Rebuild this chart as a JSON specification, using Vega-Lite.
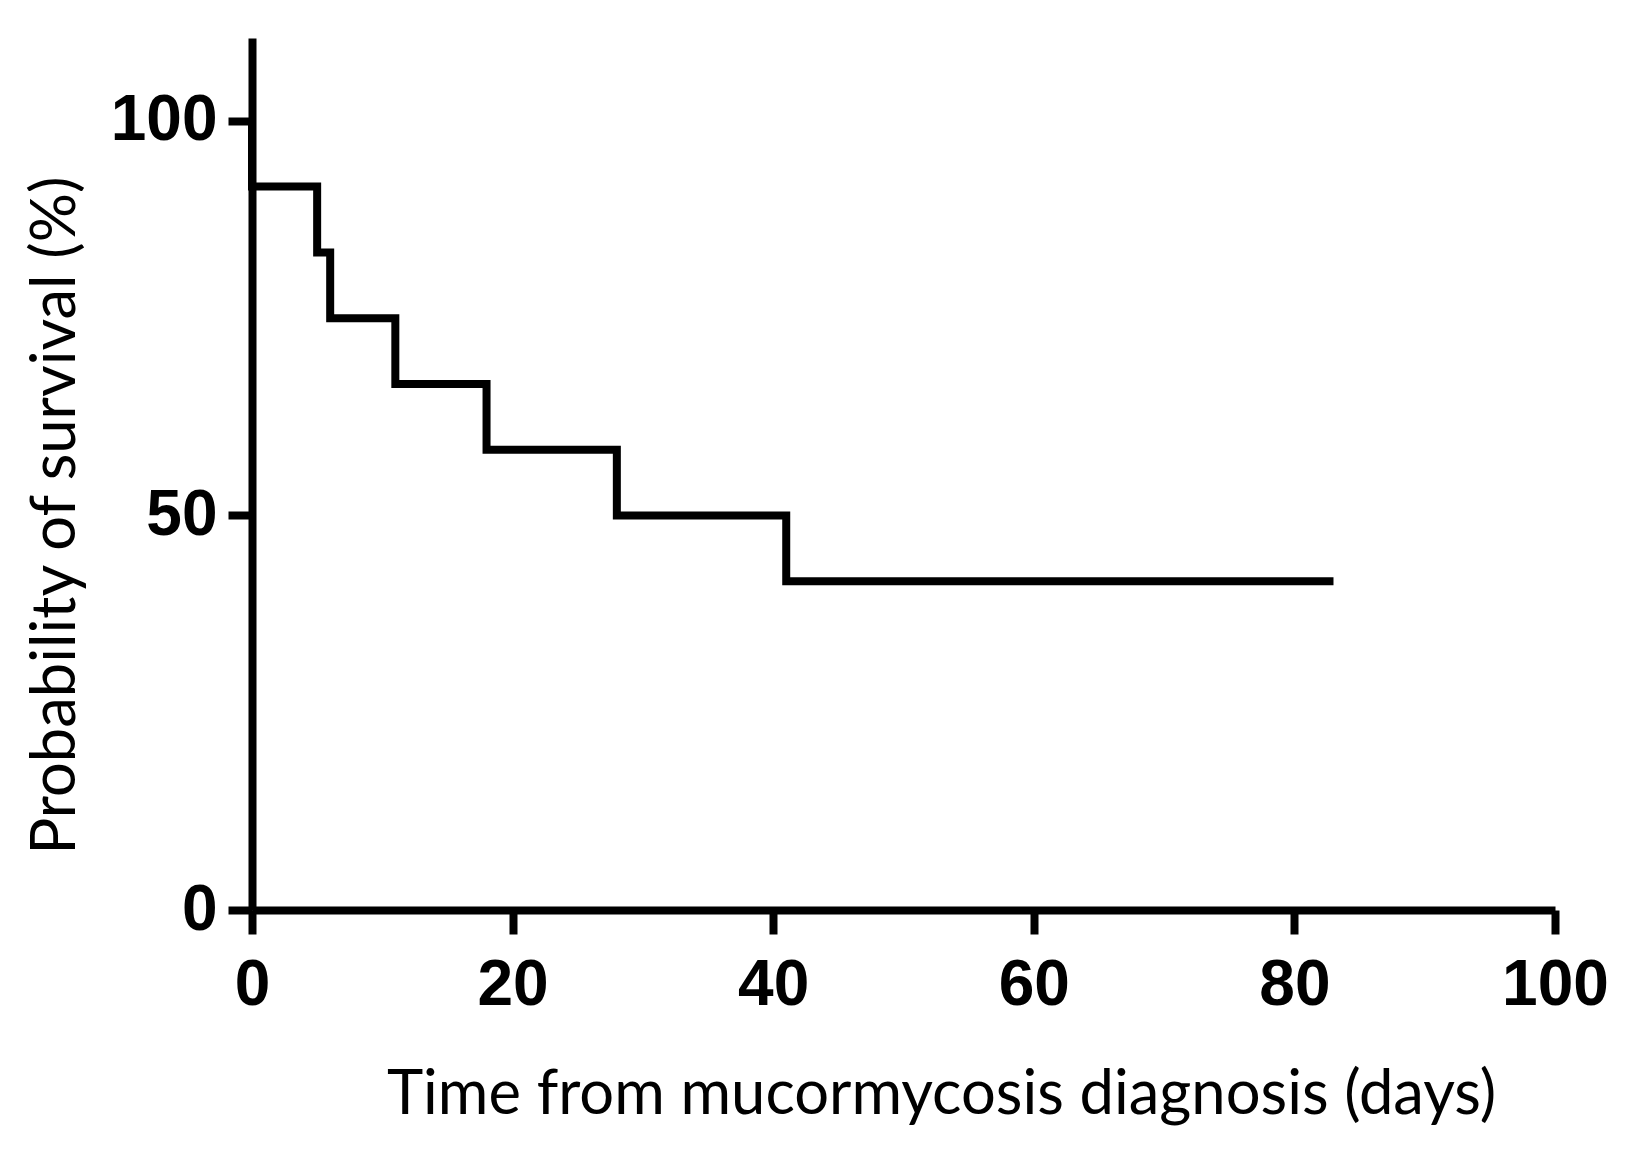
{
  "$schema": "https://vega.github.io/schema/vega-lite/v6.json",
  "width": 1303,
  "height": 872,
  "autosize": "none",
  "padding": {"left": 252, "top": 38, "right": 71, "bottom": 243},
  "background": "white",
  "config": {"view": {"stroke": null}},
  "data": {
    "values": [
      {"step": 0, "days": 0, "survival": 100},
      {"step": 1, "days": 0, "survival": 91.67},
      {"step": 2, "days": 5, "survival": 83.33},
      {"step": 3, "days": 6, "survival": 75},
      {"step": 4, "days": 11, "survival": 66.67},
      {"step": 5, "days": 18, "survival": 58.33},
      {"step": 6, "days": 28, "survival": 50},
      {"step": 7, "days": 41, "survival": 41.67},
      {"step": 8, "days": 83, "survival": 41.67}
    ]
  },
  "mark": {"type": "line", "interpolate": "step-after", "color": "black", "strokeWidth": 8},
  "encoding": {
    "order": {"field": "step", "type": "quantitative"},
    "x": {
      "field": "days",
      "type": "quantitative",
      "scale": {"domain": [0, 100], "nice": false, "zero": true},
      "axis": {
        "values": [0, 20, 40, 60, 80, 100],
        "grid": false,
        "domainColor": "black",
        "domainWidth": 8,
        "tickColor": "black",
        "tickWidth": 8,
        "tickSize": 24,
        "labelFont": "Liberation Sans",
        "labelFontWeight": "bold",
        "labelFontSize": 64,
        "labelColor": "black",
        "labelPadding": 19,
        "labelFlush": false,
        "labelOverlap": false,
        "title": "Time from mucormycosis diagnosis (days)",
        "titleFont": "Lato",
        "titleFontWeight": "normal",
        "titleFontSize": 61.5,
        "titleColor": "black",
        "titleX": 689,
        "titleY": 203,
        "titleAlign": "center",
        "titleBaseline": "alphabetic"
      }
    },
    "y": {
      "field": "survival",
      "type": "quantitative",
      "scale": {"domain": [0, 110.5], "nice": false, "zero": true},
      "axis": {
        "values": [0, 50, 100],
        "grid": false,
        "domainColor": "black",
        "domainWidth": 8,
        "tickColor": "black",
        "tickWidth": 8,
        "tickSize": 24,
        "labelFont": "Liberation Sans",
        "labelFontWeight": "bold",
        "labelFontSize": 64,
        "labelColor": "black",
        "labelPadding": 11,
        "labelFlush": false,
        "labelOverlap": false,
        "title": "Probability of survival (%)",
        "titleFont": "Lato",
        "titleFontWeight": "normal",
        "titleFontSize": 61.5,
        "titleColor": "black",
        "titleAngle": -90,
        "titleX": -178,
        "titleY": 477,
        "titleAlign": "center",
        "titleBaseline": "alphabetic"
      }
    }
  }
}
